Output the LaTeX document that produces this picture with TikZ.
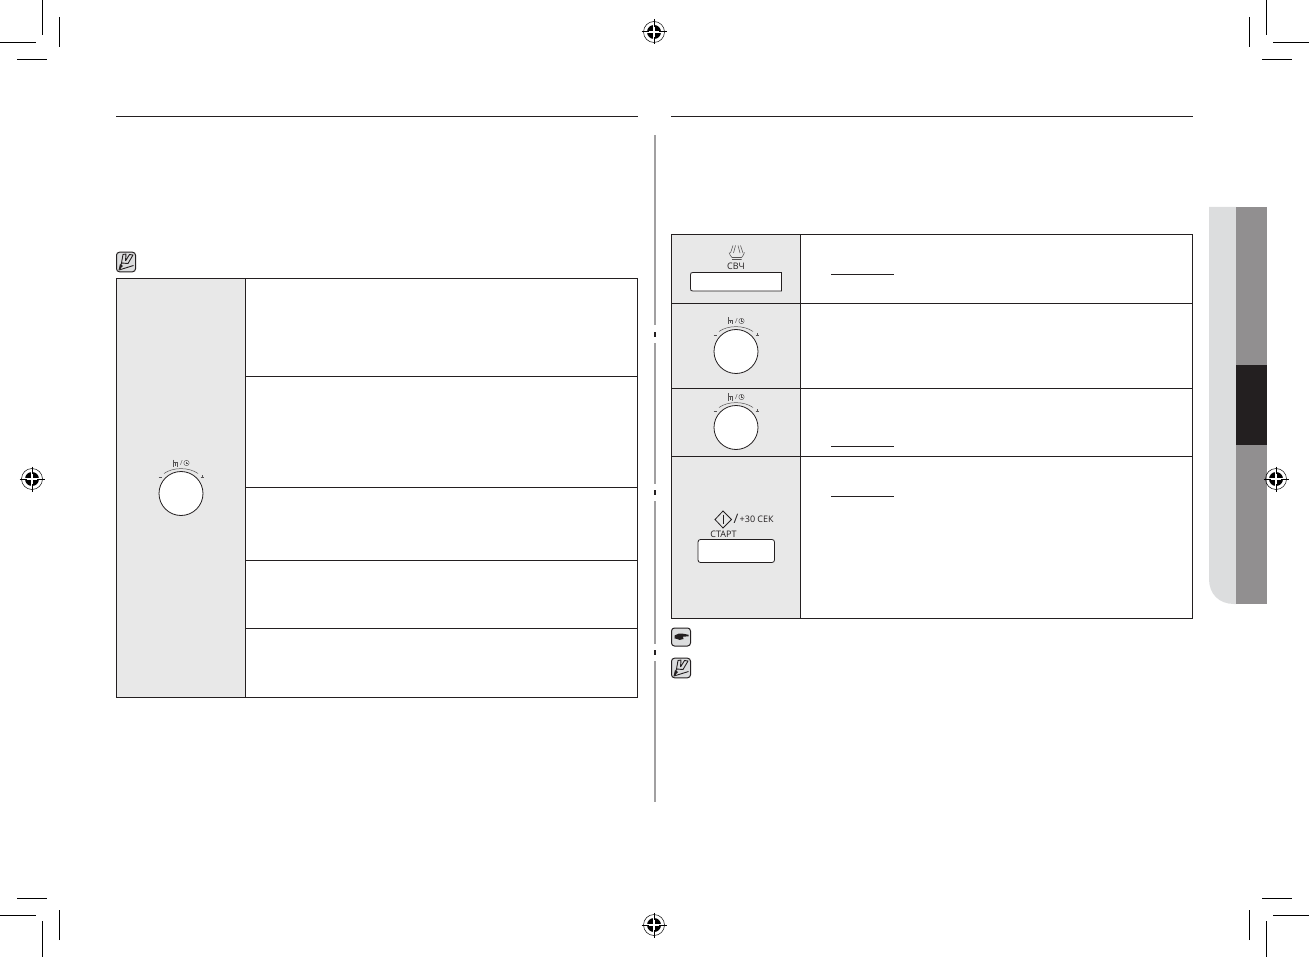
\documentclass[tikz,border=0pt]{standalone}
\usepackage{fontspec}
\setmainfont{Open Sans}
\definecolor{panel}{HTML}{E8E8E8}
\definecolor{ink}{HTML}{231F20}
\definecolor{midgray}{HTML}{918F90}
\definecolor{lightgray2}{HTML}{DCDDDE}
\definecolor{iconink}{HTML}{555354}
\tikzset{
  crop/.style={line width=1pt,black},
  rule/.style={line width=1pt,ink},
  tablerule/.style={line width=1.1pt,ink},
  labeltext/.style={inner sep=0pt,font=\fontsize{9}{10}\selectfont,text=ink},
  regmark/.pic={
    \draw[line width=.5pt] (0,0) circle (10.5);
    \fill (0,0) circle (7);
    \draw[line width=1.2pt,white] (-7.2,0)--(7.2,0) (0,-7.2)--(0,7.2);
    \draw[line width=1pt,black] (-12.5,0)--(-5,0) (5,0)--(12.5,0) (0,-12.5)--(0,-5) (0,5)--(0,12.5);
  },
  dial/.pic={
    \fill[white] (0,0) circle (22);
    \draw[line width=.8pt,ink] (0,0) circle (22);
    \draw[line width=.5pt,iconink] (-17,-20) .. controls (-8,-26.5) and (8,-26.5) .. (17,-20);
    \draw[line width=.5pt,iconink] (-22.5,-16.7)--(-19.5,-16.7) (19.5,-16.7)--(22.5,-16.7) (21,-18.2)--(21,-15.2);
    \draw[line width=.9pt,iconink] (-8,-34)--(-8,-27);
    \draw[line width=.6pt,iconink] (-8,-31)--(-3.5,-31)--(-3.5,-27) (-5.8,-31)--(-5.8,-28);
    \node[labeltext,font=\fontsize{7}{8}\selectfont,text=iconink] (sl) at (0.3,-30.3) {/};
    \draw[line width=.45pt,iconink] (5.5,-30.5) circle (2.7);
    \draw[line width=.4pt,iconink] (5.5,-32)--(5.5,-30.5)--(6.6,-30.5);
  },
  noteicon/.pic={
    \draw[line width=1pt,ink,fill=lightgray2,rounded corners=3pt] (-9.5,-9.8) rectangle (9.5,9.8);
    \draw[line width=.9pt,ink,line join=round] (-6,7.5)--(-4.5,1)--(-3,-7.5)--(0,-8)--(-.5,-1) (-4.5,1)--(2,1.5)--(7,-7)--(3.5,-7.5)--(-.5,-1);
    \fill[ink] (-7.5,8.5)--(-6,2)--(-3,4)--cycle;
    \draw[line width=.9pt,ink] (-7,8)--(7.5,3.5);
  },
  handicon/.pic={
    \draw[line width=1pt,ink,fill=lightgray2,rounded corners=3pt] (-9.5,-9) rectangle (9.5,9);
    \fill[ink] (-6.5,-1.5) -- (-2,-3.5) .. controls (2,-3.8) and (5,-2.5) .. (7.5,-2.2)
       -- (7.5,-.6) -- (2,-.4) -- (2.5,2) .. controls (0,3.5) and (-3,3) .. (-4.5,1.8) -- (-6.5,1.5) -- cycle;
  }
}
\begin{document}
\begin{tikzpicture}[x=1pt,y=-1pt]
\useasboundingbox (0,0) rectangle (1309,957);
% crop marks
\draw[crop] (42.5,0)--(42.5,35) (0,42.5)--(36,42.5) (59.5,17)--(59.5,47) (17,59.5)--(47,59.5);
\draw[crop] (1266.5,0)--(1266.5,35) (1273,42.5)--(1309,42.5) (1249.5,17)--(1249.5,47) (1262,59.5)--(1292,59.5);
\draw[crop] (42.5,957)--(42.5,921) (0,915.5)--(36,915.5) (59.5,940)--(59.5,910) (17,898.5)--(47,898.5);
\draw[crop] (1266.5,957)--(1266.5,921) (1273,915.5)--(1309,915.5) (1249.5,940)--(1249.5,910) (1262,898.5)--(1292,898.5);
% side tab
\fill[lightgray2] (1209,207) -- (1236,207) -- (1236,604) -- (1234,604) .. controls (1219,604) and (1209,594) .. (1209,579) -- cycle;
\fill[midgray] (1236,207) rectangle (1267,604);
\fill[ink] (1236,365) rectangle (1267,445);
% registration marks
\pic at (654,32) {regmark};
\pic at (654,925) {regmark};
\pic at (32,479) {regmark};
\pic at (1276,479) {regmark};
% header rules
\draw[rule] (116,116.5)--(637.5,116.5);
\draw[rule] (671,116.5)--(1193,116.5);
% centre bar
\fill[midgray!85] (654,135) rectangle (656,325);
\fill[ink] (654,332) rectangle (656,337);
\fill[midgray!85] (654,343) rectangle (656,484);
\fill[ink] (654,490) rectangle (656,495);
\fill[midgray!85] (654,501) rectangle (656,644);
\fill[ink] (654,650) rectangle (656,655);
\fill[midgray!85] (654,661) rectangle (656,802);
% left table
\fill[panel] (116.5,278.5) rectangle (245.5,697.5);
\draw[tablerule] (116.5,278.5) rectangle (637.5,697.5);
\draw[tablerule] (245.5,278.5)--(245.5,697.5);
\draw[tablerule] (245.5,376.5)--(637.5,376.5) (245.5,487.5)--(637.5,487.5) (245.5,560.5)--(637.5,560.5) (245.5,628.5)--(637.5,628.5);
\pic at (181,493.5) {dial};
\pic at (126,262) {noteicon};
% right table
\fill[panel] (671.5,234.5) rectangle (800.5,618.5);
\draw[tablerule] (671.5,234.5) rectangle (1192.5,618.5);
\draw[tablerule] (800.5,234.5)--(800.5,618.5);
\draw[tablerule] (671.5,303.5)--(1192.5,303.5) (671.5,388.5)--(1192.5,388.5) (671.5,456.5)--(1192.5,456.5);
\draw[line width=1pt,ink] (831,274.5)--(894,274.5) (831,446.5)--(894,446.5) (831,496.5)--(894,496.5);
% microwave button
\draw[line width=.55pt,iconink,line join=round]
  (730.5,253) -- (733,245.5) (733.5,253) -- (735.5,245.5)
  (738,245.5) -- (740,253) (740.5,245.5) -- (743,253)
  (729,252.5) .. controls (729.5,255) and (731,256) .. (732,257.5) -- (741.5,257.5) .. controls (742.5,256) and (744,255) .. (744.5,252.5)
  (732,259.5)--(741.5,259.5);
\node[labeltext] (svch) at (736,266) {СВЧ};
\fill[white] (781.5,272.5) -- (693,272.5) .. controls (691,272.5) and (690.5,273) .. (690.5,275) -- (690.5,288.5) .. controls (690.5,290.5) and (691,291) .. (693,291) -- (781.5,291) -- cycle;
\draw[line width=.8pt,ink] (781.5,272.5) -- (693,272.5) .. controls (691,272.5) and (690.5,273) .. (690.5,275) -- (690.5,288.5) .. controls (690.5,290.5) and (691,291) .. (693,291) -- (781.5,291) -- cycle;
% dials
\pic at (736,351.5) {dial};
\pic at (736,427.5) {dial};
% start button
\draw[line width=.8pt,ink] (715,519.5)--(723,511)--(731.5,519.5)--(723,528)--cycle;
\draw[line width=.8pt,ink] (723,514.5)--(723,524);
\node[labeltext,anchor=west,font=\fontsize{13}{14}\selectfont] (slash) at (733.5,519) {/};
\node[labeltext,anchor=west] (plus) at (739.5,519.5) {+30 СЕК};
\node[labeltext] (start) at (723.5,534) {СТАРТ};
\draw[line width=.8pt,ink,fill=white,rounded corners=2.5pt] (698,539.5) rectangle (774.5,562.5);
\pic at (681,637) {handicon};
\pic at (681,668) {noteicon};
\end{tikzpicture}
\end{document}
